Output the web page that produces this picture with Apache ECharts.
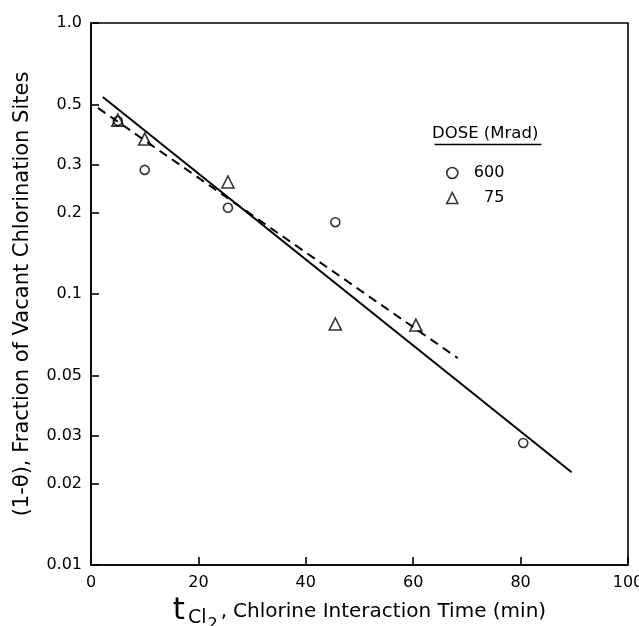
<!DOCTYPE html>
<html>
<head>
<meta charset="utf-8">
<script src="https://cdn.jsdelivr.net/npm/echarts@6/dist/echarts.min.js"></script>
<style>
  html, body { margin: 0; padding: 0; background: #fff; }
  #chart { width: 639px; height: 626px; }
</style>
</head>
<body>
<div id="chart"></div>
<script>
// Measured fractions of vacant chlorination sites vs. chlorine interaction time
const dose600Time = [5, 10, 25.5, 45.5, 80.5];
const dose600Frac = [0.435, 0.287, 0.208, 0.184, 0.0282];
const dose75Time = [5, 10, 25.5, 45.5, 60.5];
const dose75Frac = [0.438, 0.373, 0.259, 0.0775, 0.0768];

// Fitted decay lines (end points)
const solidFitTime = [2.2, 89.5];
const solidFitFrac = [0.533, 0.0220];
const dashedFitTime = [1.3, 68.3];
const dashedFitFrac = [0.486, 0.058];

const yTicks = [0.01, 0.02, 0.03, 0.05, 0.1, 0.2, 0.3, 0.5, 1.0];
const xTicks = [0, 20, 40, 60, 80, 100];

const pairs = (xs, ys) => xs.map((x, i) => [x, ys[i]]);
const FONT = 'DejaVu Sans';

const chart = echarts.init(document.getElementById('chart'), null, { renderer: 'canvas' });
chart.setOption({
  backgroundColor: '#fff',
  animation: false,
  textStyle: { fontFamily: FONT, color: '#000' },
  grid: {
    left: 91, right: 11, top: 23, bottom: 61,
    outerBoundsMode: 'none', containLabel: false,
    show: true, borderColor: '#000', borderWidth: 1.6, backgroundColor: 'transparent'
  },
  legend: {
    show: true,
    orient: 'vertical',
    left: 441, top: 160,
    itemWidth: 11, itemHeight: 11, itemGap: 9,
    textStyle: { fontFamily: FONT, fontSize: 16, color: '#000', padding: [0, 0, 0, 11] },
    data: [
      { name: '600', icon: 'circle', itemStyle: { color: '#fff', borderColor: '#000', borderWidth: 1.6 } },
      { name: '  75', icon: 'triangle', itemStyle: { color: '#fff', borderColor: '#000', borderWidth: 1.6 } }
    ]
  },
  graphic: [
    {
      type: 'text', left: 432, top: 125,
      style: { text: 'DOSE (Mrad)', font: '16.5px "DejaVu Sans"', fill: '#000' }
    },
    {
      type: 'line', left: 432, top: 142,
      shape: { x1: 0, y1: 0, x2: 107, y2: 0 },
      style: { stroke: '#000', lineWidth: 1.3 }
    }
  ],
  xAxis: {
    type: 'value', min: 0, max: 100, interval: 20,
    axisLine: { show: true, lineStyle: { color: '#000', width: 1.6 } },
    axisTick: { show: true, inside: true, length: 8, lineStyle: { color: '#000', width: 1.6 } },
    splitLine: { show: false },
    axisLabel: { fontFamily: FONT, fontSize: 16, color: '#000', margin: 10 },
    name: '{t|t}{s|Cl}{ss|2}{c|,}{n|Chlorine Interaction Time (min)}',
    nameLocation: 'middle', nameGap: 23,
    nameTextStyle: {
      rich: {
        t: { fontFamily: FONT, fontSize: 31, color: '#000' },
        s: { fontFamily: FONT, fontSize: 19, color: '#000', padding: [14, 0, 0, 3] },
        ss: { fontFamily: FONT, fontSize: 16, color: '#000', padding: [26, 0, 0, 1] },
        c: { fontFamily: FONT, fontSize: 20, color: '#000', padding: [0, 0, 0, 3] },
        n: { fontFamily: FONT, fontSize: 20, color: '#000', padding: [0, 0, 0, 6] }
      }
    }
  },
  yAxis: {
    type: 'log', logBase: 10, min: 0.01, max: 1,
    axisLine: { show: true, lineStyle: { color: '#000', width: 1.6 } },
    axisTick: { show: true, inside: true, length: 8, customValues: yTicks, lineStyle: { color: '#000', width: 1.6 } },
    minorTick: { show: false },
    splitLine: { show: false },
    axisLabel: {
      fontFamily: FONT, fontSize: 16, color: '#000', margin: 9,
      customValues: yTicks,
      formatter: v => (Math.abs(v - 1) < 1e-9 ? '1.0' : String(+v.toPrecision(2)))
    },
    name: '(1-θ), Fraction of Vacant Chlorination Sites',
    nameLocation: 'middle', nameGap: 58, nameRotate: 90,
    nameTextStyle: { fontFamily: FONT, fontSize: 21, color: '#000' }
  },
  series: [
    {
      name: 'solid fit', type: 'line', data: pairs(solidFitTime, solidFitFrac),
      showSymbol: false, symbol: 'none', silent: true,
      lineStyle: { color: '#000', width: 2, type: 'solid' }
    },
    {
      name: 'dashed fit', type: 'line', data: pairs(dashedFitTime, dashedFitFrac),
      showSymbol: false, symbol: 'none', silent: true,
      lineStyle: { color: '#000', width: 2, type: [9, 6] }
    },
    {
      name: '600', type: 'scatter', data: pairs(dose600Time, dose600Frac),
      symbol: 'circle', symbolSize: 9,
      itemStyle: { color: '#fff', borderColor: '#000', borderWidth: 1.6 }
    },
    {
      name: '  75', type: 'scatter', data: pairs(dose75Time, dose75Frac),
      symbol: 'triangle', symbolSize: 12,
      itemStyle: { color: 'rgba(255,255,255,0)', borderColor: '#000', borderWidth: 1.6 }
    }
  ]
});
</script>
</body>
</html>
